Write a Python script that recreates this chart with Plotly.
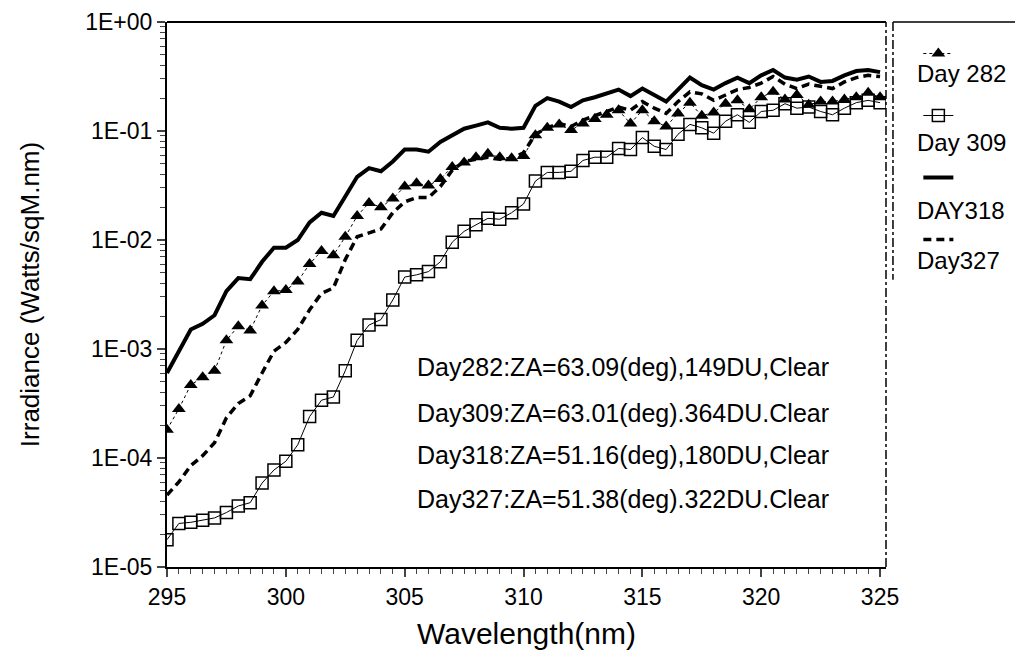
import plotly.graph_objects as go

wavelength = [295.0 + 0.5 * i for i in range(61)]

day282 = [1.82e-4, 2.82e-4, 4.68e-4, 5.50e-4, 6.31e-4, 1.20e-3, 1.62e-3, 1.48e-3, 2.51e-3, 3.39e-3,
          3.47e-3, 4.17e-3, 6.03e-3, 7.94e-3, 7.24e-3, 1.07e-2, 1.66e-2, 2.19e-2, 2.00e-2, 2.40e-2,
          3.09e-2, 3.31e-2, 3.16e-2, 3.63e-2, 4.68e-2, 5.13e-2, 5.75e-2, 6.17e-2, 5.75e-2, 5.62e-2,
          5.89e-2, 9.12e-2, 0.107, 0.115, 0.102, 0.117, 0.129, 0.141, 0.155, 0.117,
          0.155, 0.123, 0.110, 0.145, 0.182, 0.138, 0.148, 0.178, 0.191, 0.158,
          0.204, 0.229, 0.195, 0.214, 0.174, 0.186, 0.186, 0.195, 0.204, 0.224, 0.204]

day309 = [1.78e-5, 2.51e-5, 2.57e-5, 2.69e-5, 2.82e-5, 3.16e-5, 3.63e-5, 3.89e-5, 5.89e-5, 7.76e-5,
          9.33e-5, 1.32e-4, 2.40e-4, 3.39e-4, 3.63e-4, 6.31e-4, 1.20e-3, 1.66e-3, 1.86e-3, 2.82e-3,
          4.57e-3, 4.79e-3, 5.13e-3, 6.31e-3, 9.55e-3, 1.20e-2, 1.38e-2, 1.58e-2, 1.55e-2, 1.78e-2,
          2.14e-2, 3.47e-2, 4.17e-2, 4.17e-2, 4.27e-2, 5.37e-2, 5.75e-2, 5.75e-2, 6.92e-2, 6.76e-2,
          8.71e-2, 7.24e-2, 6.76e-2, 9.33e-2, 0.115, 0.107, 9.55e-2, 0.123, 0.141, 0.120,
          0.151, 0.155, 0.178, 0.162, 0.166, 0.151, 0.141, 0.162, 0.182, 0.191, 0.182]

day318 = [6.03e-4, 9.55e-4, 1.51e-3, 1.70e-3, 2.04e-3, 3.39e-3, 4.47e-3, 4.37e-3, 6.31e-3, 8.51e-3,
          8.51e-3, 1.00e-2, 1.45e-2, 1.78e-2, 1.66e-2, 2.51e-2, 3.80e-2, 4.57e-2, 4.27e-2, 5.25e-2,
          6.76e-2, 6.76e-2, 6.46e-2, 7.94e-2, 9.12e-2, 0.105, 0.112, 0.120, 0.107, 0.105,
          0.107, 0.170, 0.200, 0.186, 0.166, 0.191, 0.204, 0.219, 0.240, 0.209,
          0.245, 0.214, 0.186, 0.240, 0.309, 0.263, 0.240, 0.275, 0.309, 0.275,
          0.324, 0.363, 0.309, 0.295, 0.316, 0.282, 0.288, 0.324, 0.355, 0.363, 0.347]

day327 = [4.57e-5, 6.03e-5, 8.51e-5, 1.05e-4, 1.38e-4, 2.34e-4, 3.16e-4, 3.72e-4, 6.03e-4, 9.55e-4,
          1.15e-3, 1.51e-3, 2.29e-3, 3.24e-3, 3.63e-3, 6.61e-3, 1.07e-2, 1.17e-2, 1.26e-2, 1.78e-2,
          2.24e-2, 2.45e-2, 2.45e-2, 3.09e-2, 4.37e-2, 5.25e-2, 5.50e-2, 5.75e-2, 5.50e-2, 5.62e-2,
          6.31e-2, 9.33e-2, 0.107, 0.117, 0.110, 0.126, 0.138, 0.151, 0.166, 0.155,
          0.186, 0.162, 0.145, 0.186, 0.229, 0.219, 0.191, 0.214, 0.240, 0.251,
          0.275, 0.316, 0.269, 0.245, 0.269, 0.257, 0.245, 0.282, 0.309, 0.324, 0.316]

series_names = ["Day 282", "Day 309", "DAY318", "Day327"]
y_tickvals = [1e-5, 1e-4, 1e-3, 1e-2, 1e-1, 1]
y_ticktext = ["1E-05", "1E-04", "1E-03", "1E-02", "1E-01", "1E+00"]
x_tickvals = [295, 300, 305, 310, 315, 320, 325]
notes = [
    "Day282:ZA=63.09(deg),149DU,Clear",
    "Day309:ZA=63.01(deg).364DU.Clear",
    "Day318:ZA=51.16(deg),180DU,Clear",
    "Day327:ZA=51.38(deg).322DU.Clear",
]

FONT = "Liberation Sans, Arial, sans-serif"

fig = go.Figure()
fig.add_trace(go.Scatter(
    x=wavelength, y=day318, name=" ", mode="lines", legendgroup="c", legendrank=3,
    line=dict(color="black", width=4)))
fig.add_trace(go.Scatter(
    x=wavelength, y=day327, name=" ", mode="lines", legendgroup="d", legendrank=4,
    line=dict(color="black", width=3.5, dash="8px,5px")))
fig.add_trace(go.Scatter(
    x=wavelength, y=day282, name=" ", mode="lines+markers", legendgroup="a", legendrank=1,
    line=dict(color="black", width=1, dash="dot"),
    marker=dict(symbol="triangle-up", size=12, color="black")))
fig.add_trace(go.Scatter(
    x=wavelength, y=day309, name=" ", mode="lines+markers", legendgroup="b", legendrank=2,
    line=dict(color="black", width=1),
    marker=dict(symbol="square-open", size=12, color="black", line=dict(width=1.5, color="black"))))

for i, t in enumerate(notes):
    fig.add_annotation(text=t, xref="paper", yref="paper", x=0.634, y=[0.367, 0.283, 0.2055, 0.125][i],
                       xanchor="center", yanchor="middle", showarrow=False,
                       font=dict(family=FONT, size=25, color="black"))

# legend labels under each legend sample
for i, t in enumerate(series_names):
    fig.add_annotation(text=t, xref="paper", yref="paper", x=1.0403, y=[0.9046, 0.778, 0.655, 0.562][i],
                       xanchor="left", yanchor="middle", showarrow=False,
                       font=dict(family=FONT, size=24, color="black"))

# frame: top solid, right dash-dot, legend box edges
fig.add_shape(type="line", xref="paper", yref="paper", x0=0, x1=1, y0=1, y1=1,
              line=dict(color="black", width=2))
fig.add_shape(type="line", xref="paper", yref="paper", x0=1, x1=1, y0=0, y1=1,
              line=dict(color="black", width=1.5, dash="dashdot"))
fig.add_shape(type="line", xref="paper", yref="paper", x0=1.0097, x1=1.25, y0=1, y1=1,
              line=dict(color="black", width=1.5))
fig.add_shape(type="line", xref="paper", yref="paper", x0=1.0097, x1=1.0097, y0=1, y1=0.527,
              line=dict(color="black", width=1.5, dash="dashdot"))

fig.update_layout(
    width=1023, height=659,
    margin=dict(l=159, r=145, t=14, b=100, autoexpand=False),
    paper_bgcolor="white", plot_bgcolor="white",
    font=dict(family=FONT, color="black"),
    showlegend=True,
    legend=dict(x=1.045, y=0.978, xanchor="left", yanchor="top",
                font=dict(family=FONT, size=20, color="black"),
                bgcolor="rgba(0,0,0,0)", borderwidth=0, tracegroupgap=33, itemwidth=30),
    xaxis=dict(range=[295, 325.25], tickvals=x_tickvals, ticks="outside", ticklen=8, tickwidth=1.5,
               showline=True, linecolor="black", linewidth=2, showgrid=False, zeroline=False,
               tickfont=dict(family=FONT, size=23),
               minor=dict(dtick=0.5, ticks="outside", ticklen=5, tickwidth=1, showgrid=False),
               title=dict(text="Wavelength(nm)", font=dict(family=FONT, size=30), standoff=14)),
    yaxis=dict(type="log", range=[-5, 0], tickvals=y_tickvals, ticktext=y_ticktext,
               ticks="outside", ticklen=8, tickwidth=1.5,
               showline=True, linecolor="black", linewidth=2, showgrid=False, zeroline=False,
               tickfont=dict(family=FONT, size=23),
               minor=dict(dtick="D1", ticks="outside", ticklen=5, tickwidth=1, showgrid=False),
               title=dict(text="Irradiance (Watts/sqM.nm)", font=dict(family=FONT, size=26), standoff=38)),
)

fig.write_html("out.html")
